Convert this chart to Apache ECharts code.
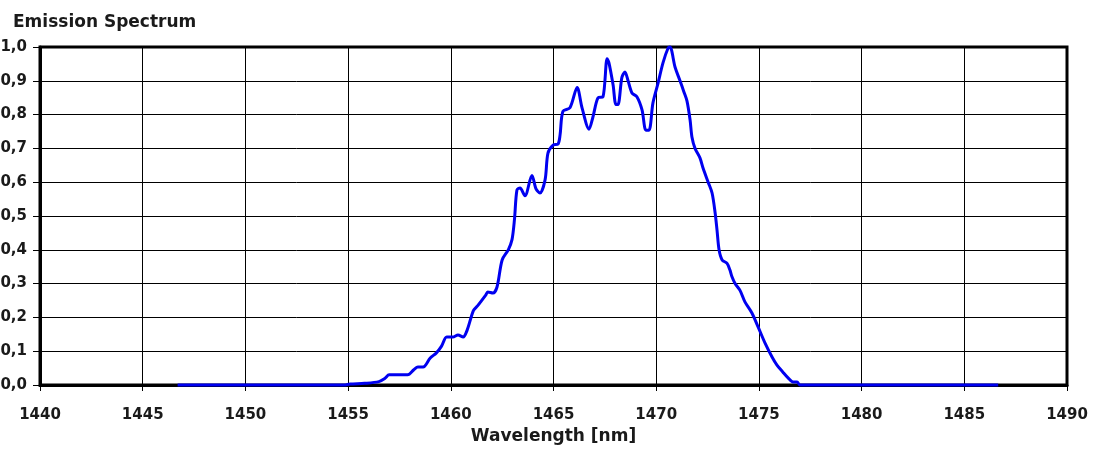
<!DOCTYPE html>
<html><head><meta charset="utf-8">
<script src="https://cdn.jsdelivr.net/npm/echarts@6/dist/echarts.min.js"></script>
<style>html,body{margin:0;padding:0;background:#fff}#c{width:1097px;height:452px}</style>
</head><body><div id="c"></div>
<script>
const wavelength = [1446.7,1454.8,1455.1,1455.8,1456.5,1456.8,1457.0,1457.9,1458.2,1458.4,1458.65,1459.0,1459.3,1459.55,1459.8,1460.1,1460.35,1460.6,1460.8,1461.1,1461.3,1461.7,1461.8,1462.05,1462.25,1462.5,1462.8,1462.98,1463.1,1463.22,1463.37,1463.61,1463.95,1464.15,1464.34,1464.59,1464.73,1464.98,1465.22,1465.32,1465.46,1465.8,1466.15,1466.39,1466.73,1466.92,1467.17,1467.41,1467.61,1467.7,1467.9,1468.04,1468.14,1468.33,1468.48,1468.63,1468.82,1469.06,1469.31,1469.5,1469.65,1469.84,1470.09,1470.33,1470.58,1470.67,1470.92,1471.16,1471.35,1471.5,1471.65,1471.74,1471.89,1472.13,1472.28,1472.53,1472.72,1472.87,1472.96,1473.06,1473.21,1473.45,1473.59,1473.69,1473.84,1474.08,1474.32,1474.66,1474.96,1475.3,1475.64,1475.88,1476.17,1476.42,1476.66,1476.86,1477.0,1486.65];
const intensity = [0,0,0.003,0.005,0.01,0.02,0.03,0.03,0.045,0.053,0.053,0.08,0.095,0.115,0.142,0.142,0.148,0.142,0.163,0.22,0.234,0.266,0.275,0.272,0.29,0.37,0.40,0.43,0.49,0.577,0.583,0.56,0.62,0.58,0.568,0.607,0.686,0.71,0.713,0.74,0.81,0.82,0.88,0.82,0.757,0.793,0.85,0.853,0.965,0.953,0.888,0.83,0.83,0.91,0.926,0.90,0.864,0.853,0.814,0.754,0.754,0.834,0.893,0.953,0.997,1.0,0.94,0.90,0.867,0.84,0.784,0.734,0.70,0.672,0.642,0.60,0.568,0.509,0.459,0.40,0.37,0.36,0.34,0.32,0.30,0.28,0.246,0.213,0.172,0.124,0.083,0.059,0.038,0.021,0.009,0.009,0,0];
const titleText = 'Emission Spectrum';
const xAxisName = 'Wavelength [nm]';

const chart = echarts.init(document.getElementById('c'));
const font = '"DejaVu Sans", sans-serif';
const txt = {fontFamily: font, fontWeight: 'bold', color: '#1a1a1a'};
chart.setOption({
  animation: false,
  title: {text: titleText, left: 8, top: 9, textStyle: Object.assign({fontSize: 17}, txt)},
  grid: {left: 40, right: 30, top: 47, bottom: 67, outerBoundsMode: 'none', containLabel: false,
         show: true, borderColor: '#000', borderWidth: 3, backgroundColor: 'transparent'},
  xAxis: {
    type: 'value', min: 1440, max: 1490, interval: 5,
    name: xAxisName, nameLocation: 'middle', nameGap: 41,
    nameTextStyle: Object.assign({fontSize: 17}, txt),
    axisLine: {lineStyle: {color: '#000', width: 3}},
    axisTick: {show: true, length: 6, lineStyle: {color: '#000', width: 1}},
    axisLabel: Object.assign({fontSize: 15, margin: 23, formatter: v => String(v)}, txt),
    splitLine: {show: true, lineStyle: {color: '#000', width: 1}}
  },
  yAxis: {
    type: 'value', min: 0, max: 1, interval: 0.1,
    axisLine: {show: true, lineStyle: {color: '#000', width: 3}},
    axisTick: {show: true, length: 7, lineStyle: {color: '#000', width: 1}},
    axisLabel: Object.assign({fontSize: 15, margin: 13, formatter: v => v.toFixed(1).replace('.', ',')}, txt),
    splitLine: {show: true, lineStyle: {color: '#000', width: 1}}
  },
  series: [{
    type: 'line', showSymbol: false, clip: false, smooth: 0.3,
    data: wavelength.map((w, i) => [w, intensity[i]]),
    lineStyle: {color: '#0000f0', width: 3}
  }]
});
</script></body></html>
